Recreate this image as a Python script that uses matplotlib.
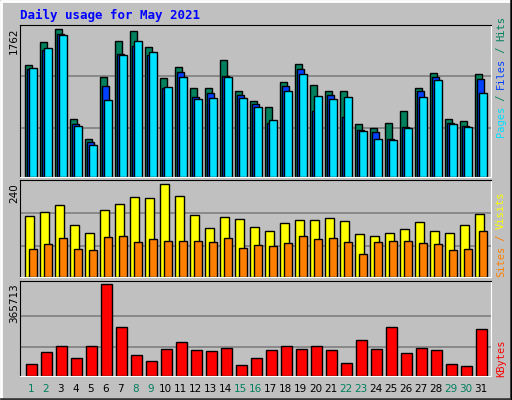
import matplotlib
matplotlib.use("Agg")
import matplotlib.pyplot as plt
import numpy as np
from matplotlib.patches import Rectangle

days = list(range(1, 32))
hits = [1331,1606,1762,690,458,1188,1618,1738,1547,1176,1307,1056,1056,1391,1020,901,829,1128,1343,1092,1020,1020,638,590,650,793,1056,1236,686,662,1224]
files = [1291,1515,1706,638,423,1080,1463,1559,1451,1056,1248,957,997,1200,973,865,650,1080,1283,793,973,721,566,542,458,602,1020,1188,650,614,1164]
pages = [1295,1535,1694,614,387,913,1451,1618,1487,1068,1188,925,937,1188,937,829,674,1020,1224,961,925,949,554,458,446,590,949,1152,638,602,997]
visits = [157,167,185,133,112,172,188,206,203,240,209,159,125,154,149,128,117,138,146,146,151,143,110,104,112,123,141,117,112,133,162]
sites = [70,83,99,70,68,102,104,89,97,91,91,91,89,99,73,81,78,86,104,97,99,89,57,89,91,91,86,83,68,70,117]
kbytes = [49000,97000,121000,73000,121000,365713,194000,85000,61000,109000,137000,105000,101000,113000,45000,73000,105000,121000,109000,121000,105000,53000,145000,109000,194000,93000,113000,105000,49000,41000,186000]
weekend = {1,2,8,9,15,16,22,23,29,30}

W, H = 512, 400
fig = plt.figure(figsize=(W/100, H/100), dpi=100)
fig.patch.set_facecolor('#C0C0C0')
# 3D outer border
fig.add_artist(plt.Line2D([0.5/W, 0.5/W, 1-0.5/W], [0, 1-0.5/H, 1-0.5/H], color='white', lw=2, transform=fig.transFigure))
fig.add_artist(plt.Line2D([0.5/W, 1-1/W, 1-1/W], [1/H, 1/H, 1], color='#404040', lw=2, transform=fig.transFigure))
fig.add_artist(plt.Line2D([0.5/W, 1-1/W, 1-1/W], [0, 0, 1], color='black', lw=1, transform=fig.transFigure))

x0, x1 = 20, 491
def ax_px(top, bottom):
    return fig.add_axes([x0/W, 1-bottom/H, (x1-x0)/W, (bottom-top)/H])

mono = 'DejaVu Sans Mono'
fig.text(20/W, 1-15/H, 'Daily usage for May 2021', color='#0000FF', fontsize=9, fontweight='bold', family=mono, va='center')

def style(ax, ymax, grids):
    ax.set_facecolor('#C0C0C0')
    ax.set_xlim(x0, x1)
    ax.set_ylim(0, ymax)
    ax.set_xticks([]); ax.set_yticks([])
    for s in ['top', 'left']:
        ax.spines[s].set_color('black')
    for s in ['bottom', 'right']:
        ax.spines[s].set_color('white')
    for g in grids:
        ax.axhline(g, color='#808080', lw=1.2, zorder=0)

left = np.array([25.3 + 15*(d-1) for d in days])
kw = dict(align='edge', edgecolor='black', linewidth=1)

ax1 = ax_px(25, 177)
style(ax1, 1813, [590, 1200])
ax1.bar(left, hits, width=7, color='#00805C', **kw)
ax1.bar(left+2, files, width=7, color='#0040FF', **kw)
ax1.bar(left+4, pages, width=7.3, color='#00E0FF', **kw)

ax2 = ax_px(180, 276.5)
style(ax2, 250, [78, 164])
ax2.bar(left, visits, width=8.3, color='#FFFF00', **kw)
ax2.bar(left+4, sites, width=7.3, color='#FF8000', **kw)

ax3 = ax_px(280.5, 376)
style(ax3, 380000, [117000, 240000])
ax3.bar(left+1, kbytes, width=10.3, color='#FF0000', **kw)
for d, l in zip(days, left):
    ax3.text(l+5.5, -13, str(d), transform=ax3.transData if False else ax3.transData,
             ha='center', va='center', fontsize=7.5, color='#00805C' if d in weekend else 'black', clip_on=False)
ax3.set_ylim(0, 380000)
# x labels via blended transform
import matplotlib.transforms as mt
for t in list(ax3.texts):
    t.remove()
tr = mt.blended_transform_factory(ax3.transData, fig.transFigure)
for d, l in zip(days, left):
    ax3.text(l+5.5, 1-389/H, str(d), transform=tr, ha='center', va='center', fontsize=7.5,
             color='#00805C' if d in weekend else 'black', clip_on=False)

# left max labels
for top, txt in [(27, '1762'), (183, '240'), (283, '365713')]:
    fig.text(14/W, 1-top/H, txt, rotation=90, ha='center', va='top', fontsize=7.5, color='black')

# right legends
def rlabel(bottom, parts):
    y = 1-bottom/H
    from matplotlib.offsetbox import TextArea, HPacker
    pass

def vstack(bottom, parts):
    # draw rotated texts bottom-to-top
    y = bottom
    for txt, col in parts:
        t = fig.text(501/W, 1-y/H, txt, rotation=90, ha='center', va='bottom', fontsize=7.5, family=mono, color=col)
        y -= len(txt)*6.0
vstack(137, [('Pages', '#00E0FF'), (' / ', '#00805C'), ('Files', '#0040FF'), (' / ', '#00805C'), ('Hits', '#00805C')])
vstack(277, [('Sites', '#FF8000'), (' / ', '#FF8000'), ('Visits', '#FFFF00')])
vstack(377, [('KBytes', '#FF0000')])

fig.savefig('out.png', dpi=100, facecolor=fig.get_facecolor())
